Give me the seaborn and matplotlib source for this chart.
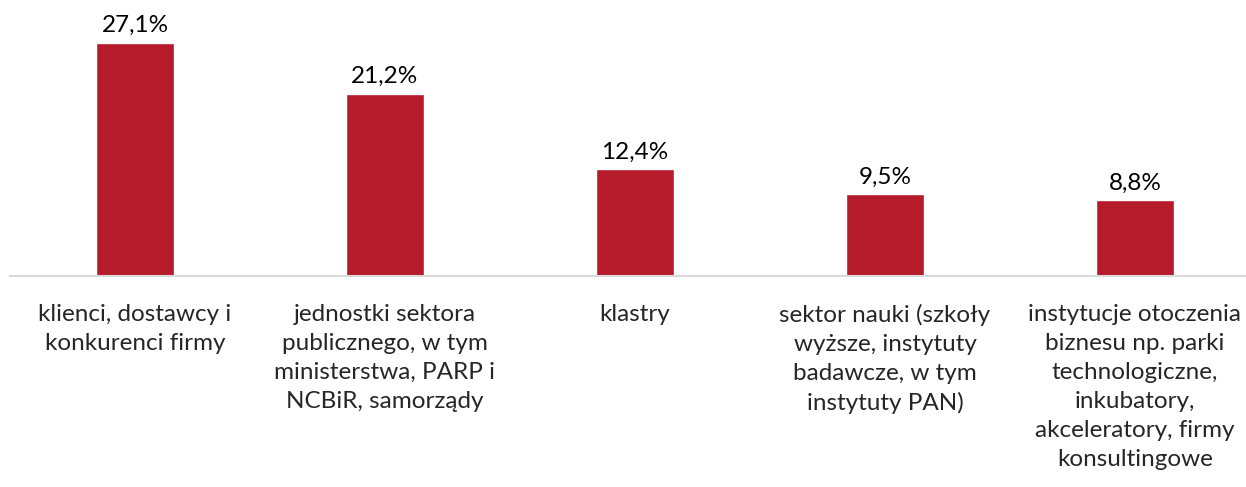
import matplotlib
matplotlib.use("Agg")
import matplotlib.pyplot as plt
import seaborn as sns
import pandas as pd

categories = [
    "klienci, dostawcy i\nkonkurenci firmy",
    "jednostki sektora\npublicznego, w tym\nministerstwa, PARP i\nNCBiR, samorządy",
    "klastry",
    "sektor nauki (szkoły\nwyższe, instytuty\nbadawcze, w tym\ninstytuty PAN)",
    "instytucje otoczenia\nbiznesu np. parki\ntechnologiczne,\ninkubatory,\nakceleratory, firmy\nkonsultingowe",
]
values = [27.1, 21.2, 12.4, 9.5, 8.8]
value_labels = ["27,1%", "21,2%", "12,4%", "9,5%", "8,8%"]


def main():
    sns.set_theme(style="white")
    plt.rcParams["font.family"] = ["Lato", "DejaVu Sans"]

    df = pd.DataFrame({"cat": categories, "val": values})

    fig = plt.figure(figsize=(12.46, 4.87), dpi=100)
    W, H = 1246, 487
    ax = fig.add_axes([10 / W, 1 - 276 / H, 1250 / W, 276 / H])

    sns.barplot(data=df, x="cat", y="val", color="#B51B2A", width=0.31,
                saturation=1, ax=ax)

    ax.set_xlim(-0.5, 4.5)
    ax.set_ylim(0, 32.1)
    for i, (v, lab) in enumerate(zip(values, value_labels)):
        ax.text(i, v + 0.8, lab, ha="center", va="bottom", fontsize=17.5,
                color="black")

    ax.set_xlabel("")
    ax.set_ylabel("")
    ax.set_yticks([])
    ax.tick_params(axis="x", length=0, pad=20, labelsize=17.5)
    for t in ax.get_xticklabels():
        t.set_linespacing(1.47)
    for s in ["top", "right", "left"]:
        ax.spines[s].set_visible(False)
    ax.spines["bottom"].set_color("#D9D9D9")
    ax.spines["bottom"].set_linewidth(1.5)

    fig.savefig("out.png", dpi=100)
    plt.close(fig)


if __name__ == "__main__":
    main()
